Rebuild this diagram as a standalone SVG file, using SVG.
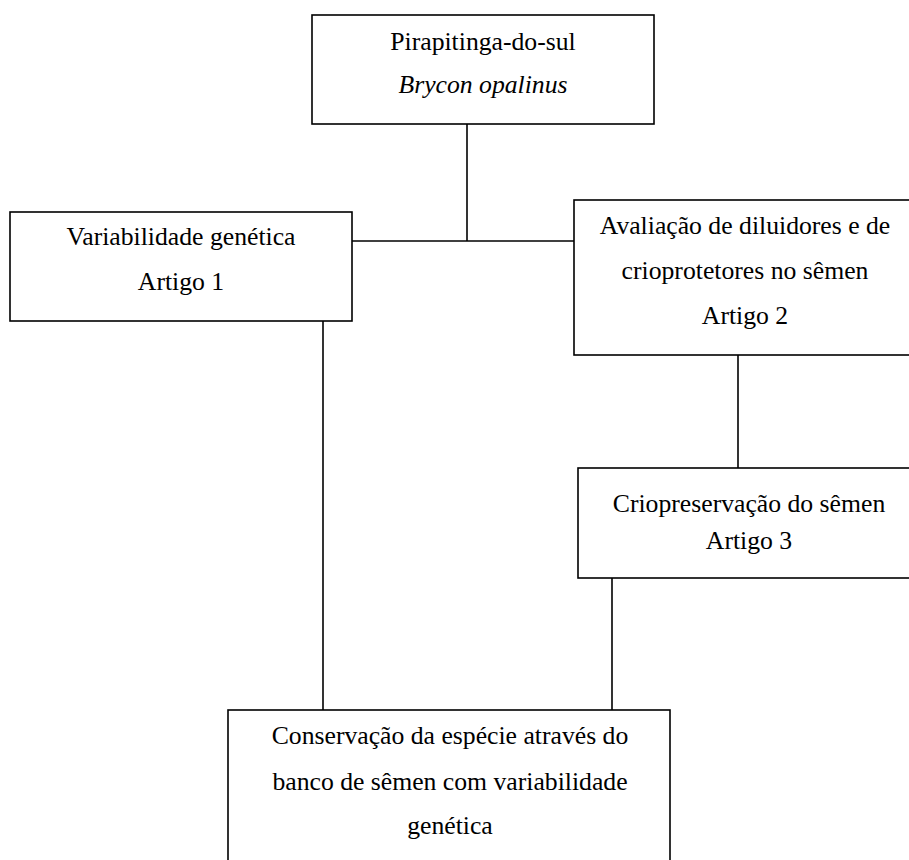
<svg xmlns="http://www.w3.org/2000/svg" width="909" height="860" viewBox="0 0 909 860">
<style>
.box{fill:#fff;stroke:#000;stroke-width:1.6}
.ln{stroke:#000;stroke-width:1.6;fill:none}
text{font-family:"Liberation Serif","Times New Roman",serif;font-size:25.7px;fill:#000;text-anchor:middle}
.it{font-style:italic}
</style>
<rect width="909" height="860" fill="#fff"/>
<g id="connectors">
<line class="ln" x1="467" y1="124" x2="467" y2="241"/>
<line class="ln" x1="352" y1="241" x2="574" y2="241"/>
<line class="ln" x1="323" y1="321" x2="323" y2="710"/>
<line class="ln" x1="738" y1="355" x2="738" y2="468"/>
<line class="ln" x1="612" y1="578" x2="612" y2="710"/>
</g>
<g id="top">
<rect class="box" x="312" y="15" width="342" height="109"/>
<text x="483" y="50">Pirapitinga-do-sul</text>
<text class="it" x="483" y="93">Brycon opalinus</text>
</g>
<g id="variabilidade">
<rect class="box" x="10" y="212" width="342" height="109"/>
<text x="181" y="245">Variabilidade genética</text>
<text x="181" y="290">Artigo 1</text>
</g>
<g id="avaliacao">
<rect class="box" x="574" y="200" width="342" height="155"/>
<text x="745" y="234">Avaliação de diluidores e de</text>
<text x="745" y="279">crioprotetores no sêmen</text>
<text x="745" y="324">Artigo 2</text>
</g>
<g id="criopreservacao">
<rect class="box" x="578" y="468" width="342" height="110"/>
<text x="749" y="512">Criopreservação do sêmen</text>
<text x="749" y="549">Artigo 3</text>
</g>
<g id="conservacao">
<rect class="box" x="228" y="710" width="442" height="170"/>
<text x="450" y="744">Conservação da espécie através do</text>
<text x="450" y="790">banco de sêmen com variabilidade</text>
<text x="450" y="834">genética</text>
</g>
</svg>
